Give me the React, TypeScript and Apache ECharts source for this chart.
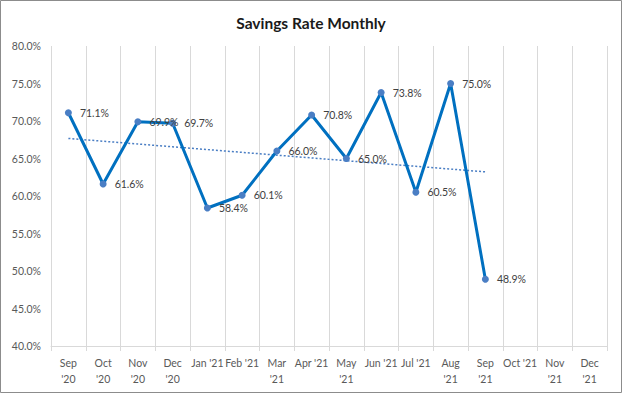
import React, { useEffect, useRef } from "react";
import * as echarts from "echarts";

const title = "Savings Rate Monthly";
const categories = [
  "Sep\n'20", "Oct\n'20", "Nov\n'20", "Dec\n'20", "Jan '21", "Feb '21", "Mar\n'21", "Apr '21",
  "May\n'21", "Jun '21", "Jul '21", "Aug\n'21", "Sep\n'21", "Oct '21", "Nov\n'21", "Dec\n'21",
];
const savingsRate: (number | null)[] = [
  71.1, 61.6, 69.9, 69.7, 58.4, 60.1, 66.0, 70.8, 65.0, 73.8, 60.5, 75.0, 48.9,
  null, null, null,
];
const yMin = 40;
const yMax = 80;
const yStep = 5;

// Linear trendline (least squares) computed from the observed values
function trend(values: (number | null)[]): (number | null)[] {
  const pts = values.map((v, i) => [i, v] as [number, number | null]).filter((p) => p[1] != null) as [number, number][];
  const n = pts.length;
  const mx = pts.reduce((s, p) => s + p[0], 0) / n;
  const my = pts.reduce((s, p) => s + p[1], 0) / n;
  let sxy = 0, sxx = 0;
  pts.forEach(([x, y]) => { sxy += (x - mx) * (y - my); sxx += (x - mx) * (x - mx); });
  const b = sxy / sxx;
  const a = my - b * mx;
  return values.map((v, i) => (v == null ? null : a + b * i));
}

export default function App() {
  const ref = useRef<HTMLDivElement>(null);
  useEffect(() => {
    if (!ref.current) return;
    const chart = echarts.init(ref.current, undefined, { renderer: "svg" });
    const font = "Lato, 'Open Sans', sans-serif";
    chart.setOption({
      animation: false,
      backgroundColor: "#ffffff",
      textStyle: { fontFamily: font },
      title: {
        text: title,
        left: "center",
        top: 10,
        textStyle: { fontFamily: font, fontSize: 15.5, fontWeight: "bold", color: "#1a1a1a" },
      },
      graphic: [
        {
          type: "rect",
          shape: { x: 0.5, y: 0.5, width: 621, height: 392 },
          style: { fill: "none", stroke: "#8c8c8c", lineWidth: 1 },
          silent: true,
          z: 100,
        },
      ],
      grid: { left: 51, right: 15, top: 46, bottom: 47, containLabel: false },
      xAxis: {
        type: "category",
        data: categories,
        boundaryGap: true,
        axisLine: { show: true, lineStyle: { color: "#d9d9d9", width: 1 } },
        axisTick: { show: true, length: 5, lineStyle: { color: "#d9d9d9" }, alignWithLabel: false },
        splitLine: { show: true, lineStyle: { color: "#d9d9d9", width: 1 } },
        axisLabel: {
          interval: 0,
          color: "#595959",
          fontSize: 10.5,
          fontFamily: font,
          margin: 9,
          lineHeight: 16,
        },
      },
      yAxis: {
        type: "value",
        min: yMin,
        max: yMax,
        interval: yStep,
        axisLine: { show: false },
        axisTick: { show: false },
        splitLine: { show: false },
        axisLabel: {
          color: "#595959",
          fontSize: 10.5,
          fontFamily: font,
          margin: 10,
          formatter: (v: number) => `${v.toFixed(1)}%`,
        },
      },
      series: [
        {
          type: "line",
          name: "Savings Rate",
          data: savingsRate,
          symbol: "circle",
          symbolSize: 7,
          lineStyle: { color: "#0070C0", width: 3 },
          itemStyle: { color: "#4A7EC4" },
          label: {
            show: true,
            position: "right",
            distance: 8,
            color: "#404040",
            fontSize: 10.5,
            fontFamily: font,
            formatter: (p: any) => `${Number(p.value).toFixed(1)}%`,
          },
          z: 3,
        },
        {
          type: "line",
          name: "Trend",
          data: trend(savingsRate),
          symbol: "none",
          lineStyle: { color: "#4A7EC4", width: 1.5, type: [2, 2] },
          label: { show: false },
          z: 2,
          silent: true,
        },
      ],
    });
    return () => chart.dispose();
  }, []);
  return (
    <div
      ref={ref}
      style={{ position: "fixed", left: 0, top: 0, width: 622, height: 393 }}
    />
  );
}
